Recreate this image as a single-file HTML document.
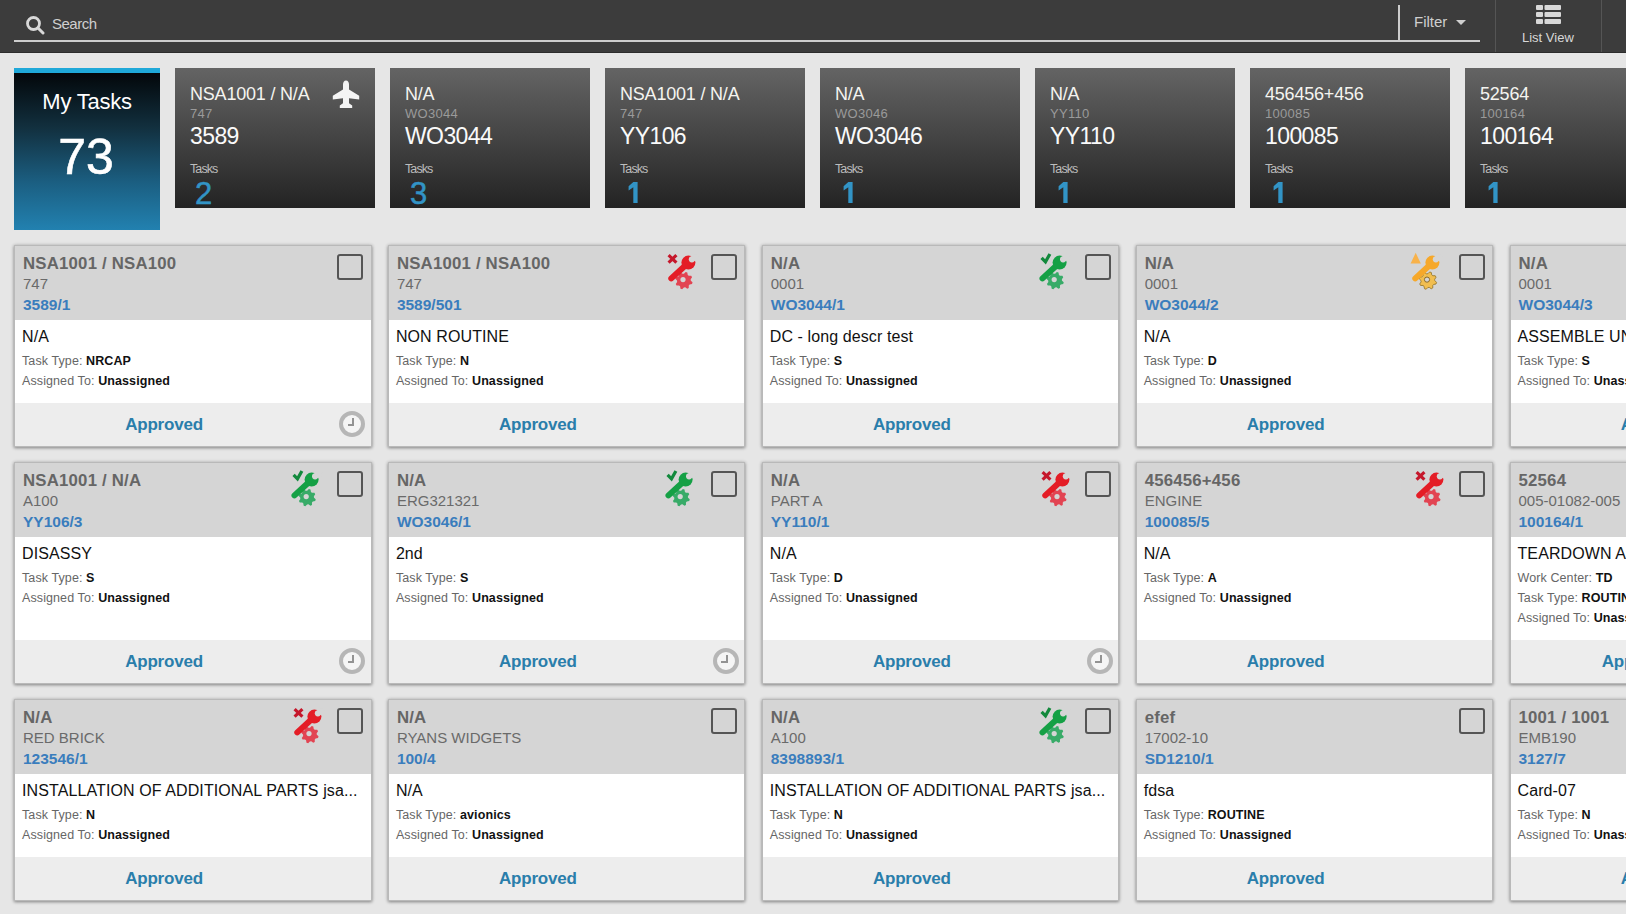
<!DOCTYPE html>
<html><head><meta charset="utf-8"><style>
*{box-sizing:border-box;margin:0;padding:0}
html,body{width:1626px;height:914px;overflow:hidden;background:#e6e6e6;font-family:"Liberation Sans", sans-serif}
.hdr{position:absolute;left:0;top:0;width:1626px;height:53px;background:#3c3c3c;border-bottom:1px solid #2c2c2c}
.uline{position:absolute;left:14px;top:40px;width:1466px;height:2px;background:#cdcdcd}
.vline{position:absolute;left:1398px;top:5px;width:2px;height:36px;background:#cdcdcd}
.stext{position:absolute;left:52px;top:15px;font-size:15px;color:#cfcfcf;white-space:nowrap;letter-spacing:-0.5px}
.ftext{position:absolute;left:1414px;top:13px;font-size:15px;color:#cfcfcf}
.tri{position:absolute;left:1456px;top:20px;width:0;height:0;border-left:5px solid transparent;border-right:5px solid transparent;border-top:5px solid #cfcfcf}
.div1{position:absolute;left:1495px;top:0;width:1px;height:52px;background:#555}
.div2{position:absolute;left:1601px;top:0;width:1px;height:52px;background:#555}
.lv{position:absolute;left:1522px;top:29.5px;font-size:13px;color:#d8d8d8;white-space:nowrap}
.my{position:absolute;left:14px;top:68px;width:146px;height:162px;background:linear-gradient(#03070a 0%,#12303f 35%,#1b5f82 70%,#2281b0 100%);border-top:5px solid #1fa8d8}
.my .l1{position:absolute;left:0;width:146px;top:16px;text-align:center;font-size:22px;color:#fff;letter-spacing:-0.25px}
.my .l2{position:absolute;left:-1px;width:146px;top:55px;text-align:center;font-size:50px;color:#fff;-webkit-text-stroke:0.6px #fff}
.tile{position:absolute;top:68px;width:200px;height:140px;background:linear-gradient(#646464,#232323)}
.tile div{position:absolute;left:15px;white-space:nowrap}
.ta{top:16px;font-size:18px;color:#f4f4f0;letter-spacing:-0.2px}
.tb{top:38px;font-size:13px;color:#9a9a9a;letter-spacing:0.3px}
.tc{top:55px;font-size:23px;color:#fafafa;letter-spacing:-0.6px}
.td{top:94px;font-size:12.5px;color:#bdbdbd;letter-spacing:-0.9px}
.te{top:107.5px;font-size:31px;color:#3294c6;-webkit-text-stroke:0.5px #3294c6;left:20px!important}
.plane{position:absolute;left:150px;top:7px}
.one{position:absolute;left:20.4px;top:113.4px}
.card{position:absolute;width:357.5px;border:1px solid #b9b9b9;box-shadow:0 1px 3px rgba(0,0,0,.38),0 0 4px rgba(0,0,0,.12);background:#fff;overflow:hidden}
.ch{position:relative;height:74px;background:#d5d5d5}
.ch div{position:absolute;left:8px;white-space:nowrap}
.t1{top:8px;font-size:16.8px;font-weight:bold;color:#666;letter-spacing:0.2px}
.t2{top:29px;font-size:15px;color:#6a6a6a}
.t3{top:50px;font-size:15.5px;font-weight:bold;color:#3a7dbd}
.ch .cb{left:auto;right:7.5px;top:8px;width:26px;height:26px;border:2.5px solid #555;border-radius:3px}
.ic{position:absolute;right:40.5px;top:2px}
.bd{position:relative;background:#fff}
.bd div{position:absolute;left:7px;white-space:nowrap}
.desc{top:8px;font-size:16px;color:#111;letter-spacing:0.1px}
.fl{font-size:12.5px;color:#666;letter-spacing:0.1px}
.fl b{color:#111}
.ft{position:relative;height:43px;background:#ededed}
.ap{position:absolute;left:-1px;width:300px;top:12px;text-align:center;font-size:17px;font-weight:bold;color:#2a7eab;letter-spacing:-0.2px}
.clk{position:absolute;right:5.5px;top:8.3px;width:26px;height:26px;border:4px solid #b6b6b6;border-radius:50%;background:#f5f5f5}
.clk .hh{position:absolute;left:9px;top:2.5px;width:2px;height:8.2px;background:#939393}
.clk .mm{position:absolute;left:4.5px;top:9px;width:6.5px;height:2px;background:#939393}
</style></head><body>
<div class="hdr">
<svg style="position:absolute;left:25px;top:14.7px" width="20" height="20" viewBox="0 0 20 20"><circle cx="8.5" cy="8.5" r="6" stroke="#d8d8d8" stroke-width="2.8" fill="none"/><path d="M13 13 L18 18" stroke="#d8d8d8" stroke-width="3" stroke-linecap="round"/></svg>
<div class="stext">Search</div>
<div class="uline"></div><div class="vline"></div>
<div class="ftext">Filter</div><div class="tri"></div>
<div class="div1"></div><div class="div2"></div>
<svg style="position:absolute;left:1536px;top:5px" width="25" height="19" viewBox="0 0 25 19"><g fill="#d8d8d8"><rect x="0" y="0" width="7" height="5" rx="1"/><rect x="8.5" y="0" width="16.5" height="5" rx="1"/><rect x="0" y="7" width="7" height="5" rx="1"/><rect x="8.5" y="7" width="16.5" height="5" rx="1"/><rect x="0" y="14" width="7" height="5" rx="1"/><rect x="8.5" y="14" width="16.5" height="5" rx="1"/></g></svg>
<div class="lv">List View</div>
</div>
<div class="my"><div class="l1">My Tasks</div><div class="l2">73</div></div>
<div class="tile" style="left:175px"><div class="ta">NSA1001 / N/A</div><div class="tb">747</div><div class="tc">3589</div><div class="td">Tasks</div><div class="te">2</div><svg class="plane" width="40" height="40" viewBox="0 0 40 40"><path d="M21 5.5 C23 5.5 24 7.5 24 9.5 L24 14.5 L34.2 20.8 L34.2 24.6 L24 23.2 L24 28.2 L27.2 30.6 L27.2 33 L14.8 33 L14.8 30.6 L18 28.2 L18 23.2 L7.8 24.6 L7.8 20.8 L18 14.5 L18 9.5 C18 7.5 19 5.5 21 5.5 Z" fill="#f4f4f4"/></svg></div>
<div class="tile" style="left:390px"><div class="ta">N/A</div><div class="tb">WO3044</div><div class="tc">WO3044</div><div class="td">Tasks</div><div class="te">3</div></div>
<div class="tile" style="left:605px"><div class="ta">NSA1001 / N/A</div><div class="tb">747</div><div class="tc">YY106</div><div class="td">Tasks</div><svg class="one" width="20" height="30" viewBox="0 0 20 30"><path d="M8.3 1 L12.6 1 L12.6 22 L8.3 22 L8.3 6.2 L3.6 9.4 L3.6 5.2 Z" fill="#3294c6"/></svg></div>
<div class="tile" style="left:820px"><div class="ta">N/A</div><div class="tb">WO3046</div><div class="tc">WO3046</div><div class="td">Tasks</div><svg class="one" width="20" height="30" viewBox="0 0 20 30"><path d="M8.3 1 L12.6 1 L12.6 22 L8.3 22 L8.3 6.2 L3.6 9.4 L3.6 5.2 Z" fill="#3294c6"/></svg></div>
<div class="tile" style="left:1035px"><div class="ta">N/A</div><div class="tb">YY110</div><div class="tc">YY110</div><div class="td">Tasks</div><svg class="one" width="20" height="30" viewBox="0 0 20 30"><path d="M8.3 1 L12.6 1 L12.6 22 L8.3 22 L8.3 6.2 L3.6 9.4 L3.6 5.2 Z" fill="#3294c6"/></svg></div>
<div class="tile" style="left:1250px"><div class="ta">456456+456</div><div class="tb">100085</div><div class="tc">100085</div><div class="td">Tasks</div><svg class="one" width="20" height="30" viewBox="0 0 20 30"><path d="M8.3 1 L12.6 1 L12.6 22 L8.3 22 L8.3 6.2 L3.6 9.4 L3.6 5.2 Z" fill="#3294c6"/></svg></div>
<div class="tile" style="left:1465px"><div class="ta">52564</div><div class="tb">100164</div><div class="tc">100164</div><div class="td">Tasks</div><svg class="one" width="20" height="30" viewBox="0 0 20 30"><path d="M8.3 1 L12.6 1 L12.6 22 L8.3 22 L8.3 6.2 L3.6 9.4 L3.6 5.2 Z" fill="#3294c6"/></svg></div>
<div class="card" style="left:14.0px;top:245px;height:202px"><div class="ch"><div class="t1">NSA1001 / NSA100</div><div class="t2">747</div><div class="t3">3589/1</div><div class="cb"></div></div><div class="bd" style="height:83px"><div class="desc">N/A</div><div class="fl" style="top:34px">Task Type: <b>NRCAP</b></div><div class="fl" style="top:54px">Assigned To: <b>Unassigned</b></div></div><div class="ft"><div class="ap">Approved</div><div class="clk"><div class="hh"></div><div class="mm"></div></div></div></div>
<div class="card" style="left:387.875px;top:245px;height:202px"><div class="ch"><div class="t1">NSA1001 / NSA100</div><div class="t2">747</div><div class="t3">3589/501</div><svg class="ic" width="44" height="44" viewBox="0 0 44 44"><g transform="translate(0 0)"><path d="M8.6 7.2 L16.4 14.6 M16.4 7.2 L8.6 14.6" stroke="#c5172b" stroke-width="3.2" fill="none"/></g><g transform="translate(2 0)"><path d="M30.52 34.35 L30.02 36.00 L27.62 36.45 L26.76 37.50 L26.76 39.93 L25.24 40.74 L23.22 39.37 L21.87 39.50 L20.15 41.22 L18.50 40.72 L18.05 38.32 L17.00 37.46 L14.57 37.46 L13.76 35.94 L15.13 33.92 L15.00 32.57 L13.28 30.85 L13.78 29.20 L16.18 28.75 L17.04 27.70 L17.04 25.27 L18.56 24.46 L20.58 25.83 L21.93 25.70 L23.65 23.98 L25.30 24.48 L25.75 26.88 L26.80 27.74 L29.23 27.74 L30.04 29.26 L28.67 31.28 L28.80 32.63Z" fill="#e24452"/><circle cx="21" cy="31.6" r="2.6" fill="#d5d5d5"/><path d="M9.3 30.4 L25 16" stroke="#e41d26" stroke-width="6" stroke-linecap="round"/><circle cx="26.4" cy="14.6" r="7" fill="#e41d26"/><circle cx="29.9" cy="11.3" r="3.1" fill="#d5d5d5"/><path d="M28.2 9.6 L31.6 6.2 L37 7 L35.6 12.6 L31.6 13 Z" fill="#d5d5d5"/></g></svg><div class="cb"></div></div><div class="bd" style="height:83px"><div class="desc">NON ROUTINE</div><div class="fl" style="top:34px">Task Type: <b>N</b></div><div class="fl" style="top:54px">Assigned To: <b>Unassigned</b></div></div><div class="ft"><div class="ap">Approved</div></div></div>
<div class="card" style="left:761.75px;top:245px;height:202px"><div class="ch"><div class="t1">N/A</div><div class="t2">0001</div><div class="t3">WO3044/1</div><svg class="ic" width="44" height="44" viewBox="0 0 44 44"><g transform="translate(-0.7 0)"><path d="M8.3 9.8 L12.2 13.8 L16.6 6" stroke="#12893c" stroke-width="3.2" fill="none"/></g><g transform="translate(-0.8 0)"><path d="M30.52 34.35 L30.02 36.00 L27.62 36.45 L26.76 37.50 L26.76 39.93 L25.24 40.74 L23.22 39.37 L21.87 39.50 L20.15 41.22 L18.50 40.72 L18.05 38.32 L17.00 37.46 L14.57 37.46 L13.76 35.94 L15.13 33.92 L15.00 32.57 L13.28 30.85 L13.78 29.20 L16.18 28.75 L17.04 27.70 L17.04 25.27 L18.56 24.46 L20.58 25.83 L21.93 25.70 L23.65 23.98 L25.30 24.48 L25.75 26.88 L26.80 27.74 L29.23 27.74 L30.04 29.26 L28.67 31.28 L28.80 32.63Z" fill="#38ab68"/><circle cx="21" cy="31.6" r="2.6" fill="#d5d5d5"/><path d="M9.3 30.4 L25 16" stroke="#15a045" stroke-width="6" stroke-linecap="round"/><circle cx="26.4" cy="14.6" r="7" fill="#15a045"/><circle cx="29.9" cy="11.3" r="3.1" fill="#d5d5d5"/><path d="M28.2 9.6 L31.6 6.2 L37 7 L35.6 12.6 L31.6 13 Z" fill="#d5d5d5"/></g></svg><div class="cb"></div></div><div class="bd" style="height:83px"><div class="desc">DC - long descr test</div><div class="fl" style="top:34px">Task Type: <b>S</b></div><div class="fl" style="top:54px">Assigned To: <b>Unassigned</b></div></div><div class="ft"><div class="ap">Approved</div></div></div>
<div class="card" style="left:1135.625px;top:245px;height:202px"><div class="ch"><div class="t1">N/A</div><div class="t2">0001</div><div class="t3">WO3044/2</div><svg class="ic" width="44" height="44" viewBox="0 0 44 44"><g transform="translate(-3.2 0)"><path d="M10.9 4.8 L16 15.6 L5.8 15.6 Z" fill="#f8b24a"/></g><g transform="translate(-2 0)"><path d="M30.52 34.35 L30.02 36.00 L27.62 36.45 L26.76 37.50 L26.76 39.93 L25.24 40.74 L23.22 39.37 L21.87 39.50 L20.15 41.22 L18.50 40.72 L18.05 38.32 L17.00 37.46 L14.57 37.46 L13.76 35.94 L15.13 33.92 L15.00 32.57 L13.28 30.85 L13.78 29.20 L16.18 28.75 L17.04 27.70 L17.04 25.27 L18.56 24.46 L20.58 25.83 L21.93 25.70 L23.65 23.98 L25.30 24.48 L25.75 26.88 L26.80 27.74 L29.23 27.74 L30.04 29.26 L28.67 31.28 L28.80 32.63Z" fill="#f1be50" stroke="#9a7a30" stroke-width="0.9"/><circle cx="21" cy="31.6" r="2.6" fill="#d5d5d5" stroke="#8a6a2a" stroke-width="1"/><path d="M9.3 30.4 L25 16" stroke="#f6a82a" stroke-width="6" stroke-linecap="round"/><circle cx="26.4" cy="14.6" r="7" fill="#f6a82a"/><circle cx="29.9" cy="11.3" r="3.1" fill="#d5d5d5"/><path d="M28.2 9.6 L31.6 6.2 L37 7 L35.6 12.6 L31.6 13 Z" fill="#d5d5d5"/></g></svg><div class="cb"></div></div><div class="bd" style="height:83px"><div class="desc">N/A</div><div class="fl" style="top:34px">Task Type: <b>D</b></div><div class="fl" style="top:54px">Assigned To: <b>Unassigned</b></div></div><div class="ft"><div class="ap">Approved</div></div></div>
<div class="card" style="left:1509.5px;top:245px;height:202px"><div class="ch"><div class="t1">N/A</div><div class="t2">0001</div><div class="t3">WO3044/3</div><div class="cb"></div></div><div class="bd" style="height:83px"><div class="desc">ASSEMBLE UNIT</div><div class="fl" style="top:34px">Task Type: <b>S</b></div><div class="fl" style="top:54px">Assigned To: <b>Unassigned</b></div></div><div class="ft"><div class="ap">Approved</div></div></div>
<div class="card" style="left:14.0px;top:462px;height:222px"><div class="ch"><div class="t1">NSA1001 / N/A</div><div class="t2">A100</div><div class="t3">YY106/3</div><svg class="ic" width="44" height="44" viewBox="0 0 44 44"><g transform="translate(-0.7 0)"><path d="M8.3 9.8 L12.2 13.8 L16.6 6" stroke="#12893c" stroke-width="3.2" fill="none"/></g><g transform="translate(-0.8 0)"><path d="M30.52 34.35 L30.02 36.00 L27.62 36.45 L26.76 37.50 L26.76 39.93 L25.24 40.74 L23.22 39.37 L21.87 39.50 L20.15 41.22 L18.50 40.72 L18.05 38.32 L17.00 37.46 L14.57 37.46 L13.76 35.94 L15.13 33.92 L15.00 32.57 L13.28 30.85 L13.78 29.20 L16.18 28.75 L17.04 27.70 L17.04 25.27 L18.56 24.46 L20.58 25.83 L21.93 25.70 L23.65 23.98 L25.30 24.48 L25.75 26.88 L26.80 27.74 L29.23 27.74 L30.04 29.26 L28.67 31.28 L28.80 32.63Z" fill="#38ab68"/><circle cx="21" cy="31.6" r="2.6" fill="#d5d5d5"/><path d="M9.3 30.4 L25 16" stroke="#15a045" stroke-width="6" stroke-linecap="round"/><circle cx="26.4" cy="14.6" r="7" fill="#15a045"/><circle cx="29.9" cy="11.3" r="3.1" fill="#d5d5d5"/><path d="M28.2 9.6 L31.6 6.2 L37 7 L35.6 12.6 L31.6 13 Z" fill="#d5d5d5"/></g></svg><div class="cb"></div></div><div class="bd" style="height:103px"><div class="desc">DISASSY</div><div class="fl" style="top:34px">Task Type: <b>S</b></div><div class="fl" style="top:54px">Assigned To: <b>Unassigned</b></div></div><div class="ft"><div class="ap">Approved</div><div class="clk"><div class="hh"></div><div class="mm"></div></div></div></div>
<div class="card" style="left:387.875px;top:462px;height:222px"><div class="ch"><div class="t1">N/A</div><div class="t2">ERG321321</div><div class="t3">WO3046/1</div><svg class="ic" width="44" height="44" viewBox="0 0 44 44"><g transform="translate(-0.7 0)"><path d="M8.3 9.8 L12.2 13.8 L16.6 6" stroke="#12893c" stroke-width="3.2" fill="none"/></g><g transform="translate(-0.8 0)"><path d="M30.52 34.35 L30.02 36.00 L27.62 36.45 L26.76 37.50 L26.76 39.93 L25.24 40.74 L23.22 39.37 L21.87 39.50 L20.15 41.22 L18.50 40.72 L18.05 38.32 L17.00 37.46 L14.57 37.46 L13.76 35.94 L15.13 33.92 L15.00 32.57 L13.28 30.85 L13.78 29.20 L16.18 28.75 L17.04 27.70 L17.04 25.27 L18.56 24.46 L20.58 25.83 L21.93 25.70 L23.65 23.98 L25.30 24.48 L25.75 26.88 L26.80 27.74 L29.23 27.74 L30.04 29.26 L28.67 31.28 L28.80 32.63Z" fill="#38ab68"/><circle cx="21" cy="31.6" r="2.6" fill="#d5d5d5"/><path d="M9.3 30.4 L25 16" stroke="#15a045" stroke-width="6" stroke-linecap="round"/><circle cx="26.4" cy="14.6" r="7" fill="#15a045"/><circle cx="29.9" cy="11.3" r="3.1" fill="#d5d5d5"/><path d="M28.2 9.6 L31.6 6.2 L37 7 L35.6 12.6 L31.6 13 Z" fill="#d5d5d5"/></g></svg><div class="cb"></div></div><div class="bd" style="height:103px"><div class="desc">2nd</div><div class="fl" style="top:34px">Task Type: <b>S</b></div><div class="fl" style="top:54px">Assigned To: <b>Unassigned</b></div></div><div class="ft"><div class="ap">Approved</div><div class="clk"><div class="hh"></div><div class="mm"></div></div></div></div>
<div class="card" style="left:761.75px;top:462px;height:222px"><div class="ch"><div class="t1">N/A</div><div class="t2">PART A</div><div class="t3">YY110/1</div><svg class="ic" width="44" height="44" viewBox="0 0 44 44"><g transform="translate(0 0)"><path d="M8.6 7.2 L16.4 14.6 M16.4 7.2 L8.6 14.6" stroke="#c5172b" stroke-width="3.2" fill="none"/></g><g transform="translate(2 0)"><path d="M30.52 34.35 L30.02 36.00 L27.62 36.45 L26.76 37.50 L26.76 39.93 L25.24 40.74 L23.22 39.37 L21.87 39.50 L20.15 41.22 L18.50 40.72 L18.05 38.32 L17.00 37.46 L14.57 37.46 L13.76 35.94 L15.13 33.92 L15.00 32.57 L13.28 30.85 L13.78 29.20 L16.18 28.75 L17.04 27.70 L17.04 25.27 L18.56 24.46 L20.58 25.83 L21.93 25.70 L23.65 23.98 L25.30 24.48 L25.75 26.88 L26.80 27.74 L29.23 27.74 L30.04 29.26 L28.67 31.28 L28.80 32.63Z" fill="#e24452"/><circle cx="21" cy="31.6" r="2.6" fill="#d5d5d5"/><path d="M9.3 30.4 L25 16" stroke="#e41d26" stroke-width="6" stroke-linecap="round"/><circle cx="26.4" cy="14.6" r="7" fill="#e41d26"/><circle cx="29.9" cy="11.3" r="3.1" fill="#d5d5d5"/><path d="M28.2 9.6 L31.6 6.2 L37 7 L35.6 12.6 L31.6 13 Z" fill="#d5d5d5"/></g></svg><div class="cb"></div></div><div class="bd" style="height:103px"><div class="desc">N/A</div><div class="fl" style="top:34px">Task Type: <b>D</b></div><div class="fl" style="top:54px">Assigned To: <b>Unassigned</b></div></div><div class="ft"><div class="ap">Approved</div><div class="clk"><div class="hh"></div><div class="mm"></div></div></div></div>
<div class="card" style="left:1135.625px;top:462px;height:222px"><div class="ch"><div class="t1">456456+456</div><div class="t2">ENGINE</div><div class="t3">100085/5</div><svg class="ic" width="44" height="44" viewBox="0 0 44 44"><g transform="translate(0 0)"><path d="M8.6 7.2 L16.4 14.6 M16.4 7.2 L8.6 14.6" stroke="#c5172b" stroke-width="3.2" fill="none"/></g><g transform="translate(2 0)"><path d="M30.52 34.35 L30.02 36.00 L27.62 36.45 L26.76 37.50 L26.76 39.93 L25.24 40.74 L23.22 39.37 L21.87 39.50 L20.15 41.22 L18.50 40.72 L18.05 38.32 L17.00 37.46 L14.57 37.46 L13.76 35.94 L15.13 33.92 L15.00 32.57 L13.28 30.85 L13.78 29.20 L16.18 28.75 L17.04 27.70 L17.04 25.27 L18.56 24.46 L20.58 25.83 L21.93 25.70 L23.65 23.98 L25.30 24.48 L25.75 26.88 L26.80 27.74 L29.23 27.74 L30.04 29.26 L28.67 31.28 L28.80 32.63Z" fill="#e24452"/><circle cx="21" cy="31.6" r="2.6" fill="#d5d5d5"/><path d="M9.3 30.4 L25 16" stroke="#e41d26" stroke-width="6" stroke-linecap="round"/><circle cx="26.4" cy="14.6" r="7" fill="#e41d26"/><circle cx="29.9" cy="11.3" r="3.1" fill="#d5d5d5"/><path d="M28.2 9.6 L31.6 6.2 L37 7 L35.6 12.6 L31.6 13 Z" fill="#d5d5d5"/></g></svg><div class="cb"></div></div><div class="bd" style="height:103px"><div class="desc">N/A</div><div class="fl" style="top:34px">Task Type: <b>A</b></div><div class="fl" style="top:54px">Assigned To: <b>Unassigned</b></div></div><div class="ft"><div class="ap">Approved</div></div></div>
<div class="card" style="left:1509.5px;top:462px;height:222px"><div class="ch"><div class="t1">52564</div><div class="t2">005-01082-005</div><div class="t3">100164/1</div><div class="cb"></div></div><div class="bd" style="height:103px"><div class="desc">TEARDOWN AND INSPECT</div><div class="fl" style="top:34px">Work Center: <b>TD</b></div><div class="fl" style="top:54px">Task Type: <b>ROUTINE</b></div><div class="fl" style="top:74px">Assigned To: <b>Unassigned</b></div></div><div class="ft"><div class="ap" style="left:-20px">Approved</div></div></div>
<div class="card" style="left:14.0px;top:699px;height:202px"><div class="ch"><div class="t1">N/A</div><div class="t2">RED BRICK</div><div class="t3">123546/1</div><svg class="ic" width="44" height="44" viewBox="0 0 44 44"><g transform="translate(0 0)"><path d="M8.6 7.2 L16.4 14.6 M16.4 7.2 L8.6 14.6" stroke="#c5172b" stroke-width="3.2" fill="none"/></g><g transform="translate(2 0)"><path d="M30.52 34.35 L30.02 36.00 L27.62 36.45 L26.76 37.50 L26.76 39.93 L25.24 40.74 L23.22 39.37 L21.87 39.50 L20.15 41.22 L18.50 40.72 L18.05 38.32 L17.00 37.46 L14.57 37.46 L13.76 35.94 L15.13 33.92 L15.00 32.57 L13.28 30.85 L13.78 29.20 L16.18 28.75 L17.04 27.70 L17.04 25.27 L18.56 24.46 L20.58 25.83 L21.93 25.70 L23.65 23.98 L25.30 24.48 L25.75 26.88 L26.80 27.74 L29.23 27.74 L30.04 29.26 L28.67 31.28 L28.80 32.63Z" fill="#e24452"/><circle cx="21" cy="31.6" r="2.6" fill="#d5d5d5"/><path d="M9.3 30.4 L25 16" stroke="#e41d26" stroke-width="6" stroke-linecap="round"/><circle cx="26.4" cy="14.6" r="7" fill="#e41d26"/><circle cx="29.9" cy="11.3" r="3.1" fill="#d5d5d5"/><path d="M28.2 9.6 L31.6 6.2 L37 7 L35.6 12.6 L31.6 13 Z" fill="#d5d5d5"/></g></svg><div class="cb"></div></div><div class="bd" style="height:83px"><div class="desc">INSTALLATION OF ADDITIONAL PARTS jsa...</div><div class="fl" style="top:34px">Task Type: <b>N</b></div><div class="fl" style="top:54px">Assigned To: <b>Unassigned</b></div></div><div class="ft"><div class="ap">Approved</div></div></div>
<div class="card" style="left:387.875px;top:699px;height:202px"><div class="ch"><div class="t1">N/A</div><div class="t2">RYANS WIDGETS</div><div class="t3">100/4</div><div class="cb"></div></div><div class="bd" style="height:83px"><div class="desc">N/A</div><div class="fl" style="top:34px">Task Type: <b>avionics</b></div><div class="fl" style="top:54px">Assigned To: <b>Unassigned</b></div></div><div class="ft"><div class="ap">Approved</div></div></div>
<div class="card" style="left:761.75px;top:699px;height:202px"><div class="ch"><div class="t1">N/A</div><div class="t2">A100</div><div class="t3">8398893/1</div><svg class="ic" width="44" height="44" viewBox="0 0 44 44"><g transform="translate(-0.7 0)"><path d="M8.3 9.8 L12.2 13.8 L16.6 6" stroke="#12893c" stroke-width="3.2" fill="none"/></g><g transform="translate(-0.8 0)"><path d="M30.52 34.35 L30.02 36.00 L27.62 36.45 L26.76 37.50 L26.76 39.93 L25.24 40.74 L23.22 39.37 L21.87 39.50 L20.15 41.22 L18.50 40.72 L18.05 38.32 L17.00 37.46 L14.57 37.46 L13.76 35.94 L15.13 33.92 L15.00 32.57 L13.28 30.85 L13.78 29.20 L16.18 28.75 L17.04 27.70 L17.04 25.27 L18.56 24.46 L20.58 25.83 L21.93 25.70 L23.65 23.98 L25.30 24.48 L25.75 26.88 L26.80 27.74 L29.23 27.74 L30.04 29.26 L28.67 31.28 L28.80 32.63Z" fill="#38ab68"/><circle cx="21" cy="31.6" r="2.6" fill="#d5d5d5"/><path d="M9.3 30.4 L25 16" stroke="#15a045" stroke-width="6" stroke-linecap="round"/><circle cx="26.4" cy="14.6" r="7" fill="#15a045"/><circle cx="29.9" cy="11.3" r="3.1" fill="#d5d5d5"/><path d="M28.2 9.6 L31.6 6.2 L37 7 L35.6 12.6 L31.6 13 Z" fill="#d5d5d5"/></g></svg><div class="cb"></div></div><div class="bd" style="height:83px"><div class="desc">INSTALLATION OF ADDITIONAL PARTS jsa...</div><div class="fl" style="top:34px">Task Type: <b>N</b></div><div class="fl" style="top:54px">Assigned To: <b>Unassigned</b></div></div><div class="ft"><div class="ap">Approved</div></div></div>
<div class="card" style="left:1135.625px;top:699px;height:202px"><div class="ch"><div class="t1">efef</div><div class="t2">17002-10</div><div class="t3">SD1210/1</div><div class="cb"></div></div><div class="bd" style="height:83px"><div class="desc">fdsa</div><div class="fl" style="top:34px">Task Type: <b>ROUTINE</b></div><div class="fl" style="top:54px">Assigned To: <b>Unassigned</b></div></div><div class="ft"><div class="ap">Approved</div></div></div>
<div class="card" style="left:1509.5px;top:699px;height:202px"><div class="ch"><div class="t1">1001 / 1001</div><div class="t2">EMB190</div><div class="t3">3127/7</div><div class="cb"></div></div><div class="bd" style="height:83px"><div class="desc">Card-07</div><div class="fl" style="top:34px">Task Type: <b>N</b></div><div class="fl" style="top:54px">Assigned To: <b>Unassigned</b></div></div><div class="ft"><div class="ap">Approved</div></div></div>
</body></html>
